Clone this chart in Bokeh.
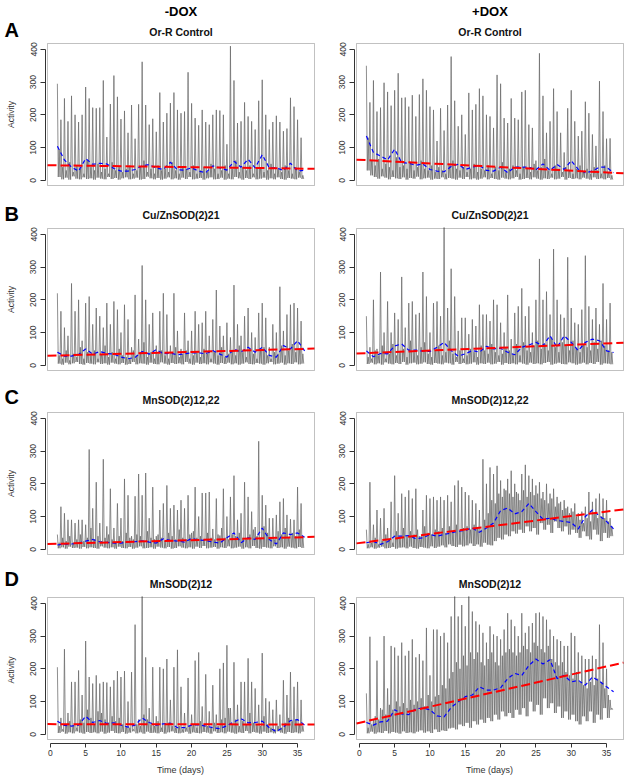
from bokeh.plotting import figure
from bokeh.models import Range1d, FixedTicker, BoxAnnotation
from bokeh.layouts import column, row
from bokeh.core.properties import value
from bokeh.embed import file_html
from bokeh.resources import INLINE

# ---------------- data ----------------
DAYS = list(range(1, 37))                 # moving-average sample days
X_TICKS = [0, 5, 10, 15, 20, 25, 30, 35]
Y_TICKS = [0, 100, 200, 300, 400]
X_LIMITS = (-0.4, 37.4)
Y_LIMITS = (-16.0, 418.0)
COL_HEADERS = ["-DOX", "+DOX"]
ROW_LETTERS = ["A", "B", "C", "D"]
ROW_TITLES = ["Or-R Control", "Cu/ZnSOD(2)21", "MnSOD(2)12,22", "MnSOD(2)12"]

# activity per half-day slot (day 1.0 .. 35.5): main peak, trough, secondary peak
A_MINUS_PEAK = [295,185,250,180,258,200,178,200,285,250, 222,220,222,305,132,233,320,255,187,212,
                145,230,127,232,362,230,170,188,148,268, 178,205,236,268,215,205,210,330,235,190,
                168,215,178,170,200,215,213,200,110,410, 305,175,180,238,195,180,155,243,307,200,
                155,178,197,178,150,158,252,225,185,130]
A_MINUS_LOW = [10,3,8,2,12,5,3,9,4,6, 2,8,5,3,10,4,7,2,6,9, 3,5,8,2,4,11,6,3,7,2,
               5,9,3,6,2,8,4,10,3,5, 7,2,6,9,3,4,8,2,5,3, 10,6,2,7,4,9,3,5,8,2,
               6,3,9,4,2,7,5,3,8,4]
A_MINUS_MID = [95,40,30,55,25,45,35,20,60,40, 30,50,25,35,20,55,30,40,25,35,
               45,20,30,40,60,25,35,20,45,30, 35,25,55,30,20,40,35,25,45,20,
               30,40,25,50,35,20,30,45,20,35, 60,25,40,30,45,20,35,40,25,30,
               50,20,35,25,45,30,20,40,25,15]
A_MINUS_AVG = [104,62,40,28,66,49,52,50,36,28, 28,33,44,48,37,33,55,32,31,38,
               28,23,44,38,31,58,40,64,38,78, 38,38,30,52,28,31]
A_MINUS_TREND = [45.9, -0.29]

A_PLUS_PEAK = [350,238,305,210,222,298,270,228,275,327, 252,253,225,260,195,262,310,275,225,215,
               120,220,152,230,378,243,165,200,140,267, 215,232,280,258,200,195,160,322,295,190,
               175,250,190,185,270,275,170,160,60,388, 258,145,180,280,210,145,85,220,275,180,
               135,150,240,205,140,105,303,210,127,128]
A_PLUS_LOW = [30,15,10,5,12,8,3,10,6,4, 9,2,7,5,11,3,6,8,2,5, 4,9,3,7,5,2,8,4,10,3,
              6,2,5,9,3,7,4,2,8,5, 3,6,10,2,4,7,3,9,5,2, 6,4,8,3,5,10,2,7,4,6,
              3,8,5,2,9,4,6,3,7,2]
A_PLUS_MID = [130,60,45,65,35,50,40,30,70,40, 45,35,55,30,40,60,35,30,45,25,
              40,30,20,45,60,35,30,40,25,35, 50,25,35,30,45,20,40,30,55,25,
              35,45,30,20,40,35,25,50,30,40, 65,30,20,45,35,25,40,30,20,35,
              45,25,35,20,40,30,20,45,25,15]
A_PLUS_AVG = [135,85,74,62,95,54,52,46,50,33, 28,26,42,49,33,40,45,30,28,40,
              23,40,40,40,32,50,30,48,33,60, 33,23,28,40,40,23]
A_PLUS_TREND = [62.6, -1.11]

B_MINUS_PEAK = [220,165,115,90,250,165,200,75,190,210, 125,175,150,115,190,125,195,170,100,185,
                140,55,215,80,305,200,125,160,60,165, 220,155,60,220,105,50,160,75,105,165,
                125,130,165,90,140,230,120,90,130,85, 245,125,90,150,175,100,85,160,190,145,
                55,125,100,240,105,155,185,190,175,135]
B_MINUS_LOW = [5,2,8,3,6,10,4,2,7,5, 3,9,4,6,2,8,5,3,7,2, 4,10,3,6,5,2,8,4,3,9,
               5,2,7,4,6,3,10,5,2,8, 4,6,3,9,5,2,7,4,8,3, 6,2,5,9,4,3,7,5,2,6,
               10,3,5,8,2,6,4,9,3,5]
B_MINUS_MID = [30,20,45,15,35,25,55,20,40,30, 45,20,35,60,25,40,20,50,30,25,
               20,45,30,35,70,25,40,20,35,45, 30,20,40,55,25,35,45,20,30,40,
               25,50,35,20,40,30,55,25,35,45, 30,60,40,25,50,35,20,45,55,30,
               20,40,35,60,30,45,65,40,50,35]
B_MINUS_AVG = [40,28,28,33,50,34,42,36,34,25, 20,24,42,34,48,35,37,32,35,38,
               38,35,45,34,25,50,40,55,40,55, 30,25,60,50,75,44]
B_MINUS_TREND = [29.2, 0.58]

B_PLUS_PEAK = [150,55,200,50,285,100,195,100,160,140, 270,115,190,195,155,160,285,210,100,190,
               195,150,425,175,295,210,105,145,145,95, 140,120,185,155,155,135,200,185,130,100,
               215,80,160,180,235,150,180,100,200,325, 200,225,155,355,200,155,145,330,175,130,
               125,170,335,180,140,175,125,250,140,190]
B_PLUS_LOW = [4,8,3,6,2,9,5,3,7,4, 10,2,6,8,3,5,9,4,2,7, 5,3,8,6,2,10,4,7,3,5,
              9,2,6,4,8,3,5,10,2,7, 4,6,3,9,5,2,8,4,6,3, 7,10,2,5,8,4,3,9,6,2,
              5,8,3,7,4,10,2,6,5,3]
B_PLUS_MID = [25,20,45,30,60,20,35,65,30,40, 50,25,75,40,30,55,70,35,25,45,
              60,30,40,75,35,25,45,20,30,50, 40,25,60,45,35,65,40,30,35,55,
              45,35,65,30,70,45,40,60,75,50, 65,45,80,55,40,70,60,45,75,50,
              40,65,55,45,70,50,75,60,45,40]
B_PLUS_AVG = [44,26,36,35,59,65,46,46,43,42, 55,70,45,28,35,45,40,58,50,52,
              40,32,55,62,70,60,90,55,90,70, 45,70,80,75,44,39]
B_PLUS_TREND = [36.3, 0.87]

C_MINUS_PEAK = [45,130,110,90,90,80,90,90,75,305, 125,205,80,275,70,185,65,140,95,215,
                165,40,162,230,165,233,95,190,40,120, 140,195,125,135,120,150,125,165,50,190,
                100,172,172,175,62,155,42,185,100,160, 225,90,110,205,160,115,68,330,165,135,
                95,95,105,145,155,105,92,90,190,140]
C_MINUS_LOW = [3,6,2,8,4,5,2,7,3,6, 4,2,9,5,3,6,2,8,4,3, 7,2,5,9,3,4,6,2,8,5,
               3,7,2,4,9,5,3,6,2,8, 4,10,3,5,7,2,6,4,9,3, 5,8,2,6,3,10,4,2,7,5,
               3,9,4,6,2,8,5,3,7,4]
C_MINUS_MID = [20,35,25,40,20,30,45,25,35,65, 30,40,25,35,45,30,20,40,25,50,
               35,30,45,40,25,55,35,30,45,35, 25,50,40,30,60,35,30,45,55,35,
               40,30,50,35,30,45,65,35,30,45, 40,50,35,30,45,60,40,35,70,50,
               35,30,55,45,65,35,50,40,60,40]
C_MINUS_AVG = [13,16,16,19,25,30,23,21,19,19, 23,23,26,22,19,32,27,25,22,33,
               28,27,22,19,35,50,20,35,30,65, 30,16,50,45,50,37]
C_MINUS_TREND = [16.2, 0.58]

C_PLUS_PEAK = [60,205,75,120,95,125,65,145,225,110, 170,160,180,155,185,40,120,165,155,160,
               150,160,150,165,145,195,210,190,175,165, 150,140,120,275,200,250,230,255,210,185,
               215,240,200,170,230,258,225,215,195,205, 175,200,170,185,160,145,150,130,125,140,
               110,115,130,175,145,155,170,155,150,95]
C_PLUS_LOW = [3,6,2,5,8,3,4,7,2,5, 6,3,8,4,2,7,5,3,9,4, 8,12,6,15,10,7,14,9,12,18,
              10,15,8,20,14,12,25,35,30,45, 40,55,48,60,50,70,55,65,45,80,
              60,75,50,85,65,55,70,45,60,50, 35,55,40,30,60,45,25,50,35,40]
C_PLUS_MID = [15,20,35,15,25,45,30,20,55,35, 65,40,55,45,60,40,70,50,45,60,
              55,65,50,70,55,75,55,65,70,60, 75,65,60,90,110,150,140,170,160,180,
              170,160,175,150,180,160,175,165,170,155, 150,140,155,130,140,120,125,110,115,100,
              90,80,95,85,110,95,100,95,85,70]
C_PLUS_AVG = [20,24,15,23,40,40,42,32,35,45, 40,45,50,55,58,65,52,65,80,118,
              126,108,115,140,115,92,95,88,85,82, 62,100,120,102,85,62]
C_PLUS_TREND = [19.1, 2.75]

D_MINUS_PEAK = [205,50,260,65,160,160,195,120,285,175, 155,180,155,160,158,145,165,193,175,193,
                100,190,335,45,425,235,80,205,55,205, 200,230,105,205,258,145,65,172,60,225,
                250,85,183,70,150,60,200,218,272,80, 220,90,160,160,232,160,140,90,248,110,
                100,75,105,60,165,120,190,145,160,105]
D_MINUS_LOW = [4,8,2,6,3,9,5,2,7,4, 6,3,8,2,5,10,4,3,7,2, 5,9,3,6,2,8,4,5,3,7,
               2,6,9,4,3,5,8,2,6,4, 3,7,5,2,9,4,6,3,8,5, 2,6,4,10,3,7,5,2,8,4,
               6,3,9,5,2,7,4,6,3,8]
D_MINUS_MID = [25,15,30,40,25,20,45,35,75,50, 30,70,65,45,35,55,40,50,30,25,
               20,15,30,25,60,45,30,25,40,20, 30,35,25,20,25,15,20,25,30,20,
               40,30,25,20,35,25,45,50,80,30, 45,25,40,30,65,35,30,25,55,30,
               20,15,25,20,35,50,40,45,30,25]
D_MINUS_AVG = [40,27,25,28,55,36,42,33,35,28, 22,28,50,36,28,32,34,20,20,28,
               29,25,20,17,26,38,48,35,36,40, 20,8,22,42,45,28]
D_MINUS_TREND = [31.0, -0.03]

D_PLUS_PEAK = [125,298,45,225,80,300,140,270,265,240, 280,240,255,290,235,245,225,325,180,320,
               320,300,310,280,360,425,360,395,330,425, 375,345,335,310,280,330,305,300,290,320,
               370,350,330,300,370,310,330,340,370,372, 360,350,320,300,290,285,270,270,310,300,
               250,240,230,230,240,230,335,280,200,105]
D_PLUS_LOW = [3,8,2,6,4,10,3,7,5,2, 9,4,6,3,8,12,5,9,4,15, 7,12,10,18,20,15,30,25,35,20,
              40,30,45,35,50,40,60,45,70,55, 65,50,75,60,80,55,100,70,90,60,
              110,80,95,65,85,50,70,45,60,40, 30,55,40,70,35,60,45,80,50,75]
D_PLUS_MID = [20,30,55,45,75,60,90,75,100,85, 95,80,105,90,100,110,85,120,100,115,
              120,150,140,170,190,220,200,240,210,250, 230,250,220,210,230,250,220,210,240,250,
              260,250,240,250,270,260,250,280,270,260, 250,270,230,220,210,220,190,180,170,190,
              160,150,140,160,150,170,160,140,120,80]
D_PLUS_AVG = [36,28,38,40,75,62,60,78,80,75, 56,53,82,99,115,120,145,135,135,142,
              170,186,180,210,230,215,228,170,180,160, 165,150,175,162,145,130]
D_PLUS_TREND = [35.0, 4.92]

PANELS = [
    [(A_MINUS_PEAK, A_MINUS_LOW, A_MINUS_MID, A_MINUS_AVG, A_MINUS_TREND),
     (A_PLUS_PEAK, A_PLUS_LOW, A_PLUS_MID, A_PLUS_AVG, A_PLUS_TREND)],
    [(B_MINUS_PEAK, B_MINUS_LOW, B_MINUS_MID, B_MINUS_AVG, B_MINUS_TREND),
     (B_PLUS_PEAK, B_PLUS_LOW, B_PLUS_MID, B_PLUS_AVG, B_PLUS_TREND)],
    [(C_MINUS_PEAK, C_MINUS_LOW, C_MINUS_MID, C_MINUS_AVG, C_MINUS_TREND),
     (C_PLUS_PEAK, C_PLUS_LOW, C_PLUS_MID, C_PLUS_AVG, C_PLUS_TREND)],
    [(D_MINUS_PEAK, D_MINUS_LOW, D_MINUS_MID, D_MINUS_AVG, D_MINUS_TREND),
     (D_PLUS_PEAK, D_PLUS_LOW, D_PLUS_MID, D_PLUS_AVG, D_PLUS_TREND)],
]

# ---------------- layout / style ----------------
FONT = "Liberation Sans"
PAGE_W = 627
BOX_W, BOX_H = 267, 142
COL_LEFT_BORDER = [45, 39]
COL_RIGHT_BORDER = [0, 3]
COL_FRAME_LEFT = [45, 354]                 # page x of each column's frame
STRIP_H = [41, 40, 39, 40]                 # heading strip above each row
TITLE_Y = [31, 28.5, 28.5, 28]             # title centre inside each strip
LETTER_Y = [29.5, 27.5, 25.5, 23]          # panel letter centre inside each strip
PANEL_TOP_BORDER = 1
GRAY = "#6a6a6a"
INK = "#333333"


def activity_series(peaks, lows, mids):
    xs, ys = [], []
    for k, (pk, lo, md) in enumerate(zip(peaks, lows, mids)):
        t0 = 1 + 0.5 * k
        xs += [t0, t0 + 0.125, t0 + 0.25, t0 + 0.375]
        ys += [pk, lo, md, lo]
    return xs, ys


def style_axis(ax, label_size):
    ax.axis_line_color = INK
    ax.major_tick_line_color = INK
    ax.minor_tick_line_color = None
    ax.major_tick_in = 0
    ax.major_label_text_font = FONT
    ax.major_label_text_font_size = label_size
    ax.major_label_text_color = INK
    ax.axis_label_text_font = FONT
    ax.axis_label_text_font_style = "normal"
    ax.axis_label_text_color = INK


def make_panel(r, c):
    peaks, lows, mids, avg, trend = PANELS[r][c]
    bottom = (r == 3)
    gl, gr, gt, gb = 2, 1, 1, (4 if bottom else 1)
    xa, xb = X_LIMITS
    ya, yb = Y_LIMITS
    kx = BOX_W / (xb - xa)
    ky = BOX_H / (yb - ya)
    p = figure(
        frame_width=BOX_W + gl + gr, frame_height=BOX_H + gt + gb,
        x_range=Range1d(xa - gl / kx, xb + gr / kx),
        y_range=Range1d(ya - gb / ky, yb + gt / ky),
        output_backend="svg", toolbar_location=None,
        x_axis_location=("below" if bottom else None),
        min_border=0,
        min_border_left=COL_LEFT_BORDER[c], min_border_right=COL_RIGHT_BORDER[c],
        min_border_top=PANEL_TOP_BORDER, min_border_bottom=(36 if bottom else 0),
    )
    p.outline_line_color = None
    p.grid.visible = False
    p.background_fill_color = "white"
    p.border_fill_color = "white"

    ax = p.yaxis[0]
    style_axis(ax, "8.5px")
    ax.ticker = FixedTicker(ticks=Y_TICKS)
    ax.bounds = (Y_TICKS[0], Y_TICKS[-1])
    ax.major_tick_out = 5
    ax.major_label_standoff = 4
    ax.major_label_orientation = "vertical"
    if c == 0:
        ax.axis_label = "Activity"
        ax.axis_label_text_font_size = "8.5px"
        ax.axis_label_standoff = 12

    if bottom:
        bx = p.xaxis[0]
        style_axis(bx, "8.5px")
        bx.ticker = FixedTicker(ticks=X_TICKS)
        bx.bounds = (X_TICKS[0], X_TICKS[-1])
        bx.major_tick_out = 4
        bx.major_label_standoff = 2
        bx.axis_label = "Time (days)"
        bx.axis_label_text_font_size = "9px"
        bx.axis_label_standoff = 6

    xs, ys = activity_series(peaks, lows, mids)
    p.line(xs, ys, line_color=GRAY, line_width=0.75)
    p.line(DAYS, avg, line_color="blue", line_width=1.2, line_dash="4 3")
    b0, b1 = trend
    p.line([xa, xb], [b0 + b1 * xa, b0 + b1 * xb], line_color="red",
           line_width=2, line_dash="9 4")
    p.add_layout(BoxAnnotation(left=xa, right=xb, bottom=ya, top=yb,
                               fill_alpha=0, line_color=INK, line_width=1))
    return p


def make_strip(r):
    h = STRIP_H[r]
    s = figure(width=PAGE_W, height=h, x_range=Range1d(0, PAGE_W), y_range=Range1d(h, 0),
               output_backend="svg", toolbar_location=None, min_border=0,
               x_axis_location=None, y_axis_location=None)
    s.outline_line_color = None
    s.grid.visible = False
    s.background_fill_color = "white"
    s.border_fill_color = "white"
    centers = [COL_FRAME_LEFT[c] + 2 + BOX_W / 2 for c in range(2)]
    s.text(x=centers, y=[TITLE_Y[r]] * 2, text=[ROW_TITLES[r]] * 2,
           text_font=value(FONT), text_font_size=value("10.5px"), text_font_style="bold",
           text_align="center", text_baseline="middle", text_color="#111111")
    s.text(x=[4], y=[LETTER_Y[r]], text=[ROW_LETTERS[r]],
           text_font=value(FONT), text_font_size=value("20px"), text_font_style="bold",
           text_align="left", text_baseline="middle", text_color="#000000")
    if r == 0:
        s.text(x=centers, y=[11] * 2, text=COL_HEADERS,
               text_font=value(FONT), text_font_size=value("13px"), text_font_style="bold",
               text_align="center", text_baseline="middle", text_color="#000000")
    return s


items = []
for r in range(4):
    items.append(make_strip(r))
    items.append(row(make_panel(r, 0), make_panel(r, 1)))
layout = column(*items)

open("out.html", "w").write(file_html(layout, INLINE))
